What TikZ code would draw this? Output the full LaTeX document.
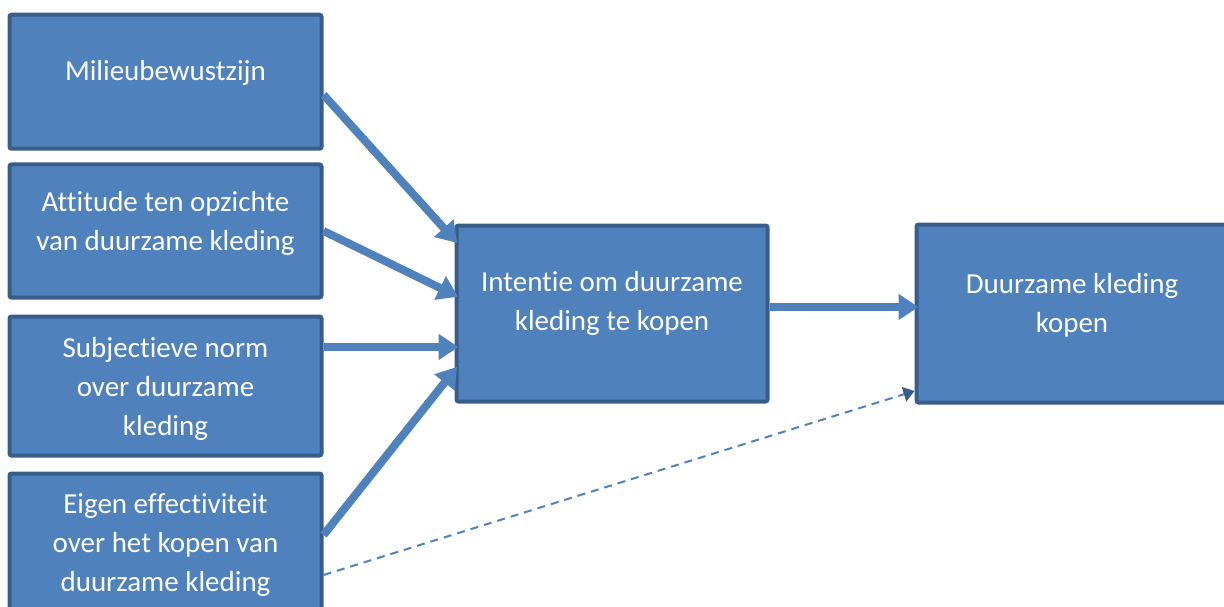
\documentclass[tikz,border=0pt]{standalone}
\usepackage{fontspec}
\setmainfont{Carlito}[Ligatures={NoCommon}]
\usepackage{tikz}
\usetikzlibrary{arrows.meta, positioning, calc}
\definecolor{boxblue}{HTML}{4F81BD}
\definecolor{boxedge}{HTML}{385D8A}

\begin{document}
\begin{tikzpicture}[x=1pt, y=-1pt,
    box/.style={rectangle, draw=boxedge, fill=boxblue, line width=4pt, rounded corners=2pt, minimum width=312pt, minimum height=134pt, inner sep=0pt},
    txt/.style={text=white, align=center, font=\fontsize{29}{39}\selectfont},
    link/.style={draw=boxblue, line width=8pt, -{Triangle[length=20pt, width=25pt]}, shorten >=-4pt},
    weak/.style={draw=boxblue, line width=2pt, dash pattern=on 8pt off 6pt, -{Triangle[length=11pt, width=15pt, color=boxedge]}}]
    \useasboundingbox (0,0) rectangle (1224,607);
    % left column
    \node[box] (milieu) at (165.5,81.75) {};
    \node[box, minimum height=133pt] (attitude) at (165.5,231) {};
    \node[box, minimum height=139pt] (norm) at (165.5,386) {};
    \node[box, minimum height=140pt] (eigen) at (165.5,543.5) {};
    % middle and right
    \node[box, minimum width=311pt, minimum height=176pt] (intentie) at (612,313.5) {};
    \node[box, minimum width=311pt, minimum height=178pt] (kopen) at (1072,313.5) {};
    % texts
    \node[txt] (milieu-t) at ($(milieu)+(0,-8.5)$) {Milieubewustzijn};
    \node[txt] (attitude-t) at ($(attitude)+(0,-8)$) {Attitude ten opzichte\\van duurzame kleding};
    \node[txt] (norm-t) at ($(norm)+(0,3)$) {Subjectieve norm\\over duurzame\\kleding};
    \node[txt] (eigen-t) at ($(eigen)+(0,2)$) {Eigen effectiviteit\\over het kopen van\\duurzame kleding};
    \node[txt] (intentie-t) at ($(intentie)+(0,-10)$) {Intentie om duurzame\\kleding te kopen};
    \node[txt] (kopen-t) at ($(kopen)+(0,-8)$) {Duurzame kleding\\kopen};
    % arrows
    \draw[link] ([yshift=-13pt]milieu.east) -- ([yshift=73.5pt]intentie.west);
    \draw[link] (attitude.east) -- ([yshift=18.5pt]intentie.west);
    \draw[link] ([yshift=39pt]norm.east) -- ([yshift=-33.5pt]intentie.west);
    \draw[link] ([yshift=8.5pt]eigen.east) -- ([yshift=-56.5pt]intentie.west);
    \draw[link] ([yshift=6.5pt]intentie.east) -- ([yshift=6.5pt]kopen.west);
    \draw[weak] ([yshift=-31.5pt]eigen.east) -- ([yshift=-77.5pt]kopen.west);
\end{tikzpicture}
\end{document}
